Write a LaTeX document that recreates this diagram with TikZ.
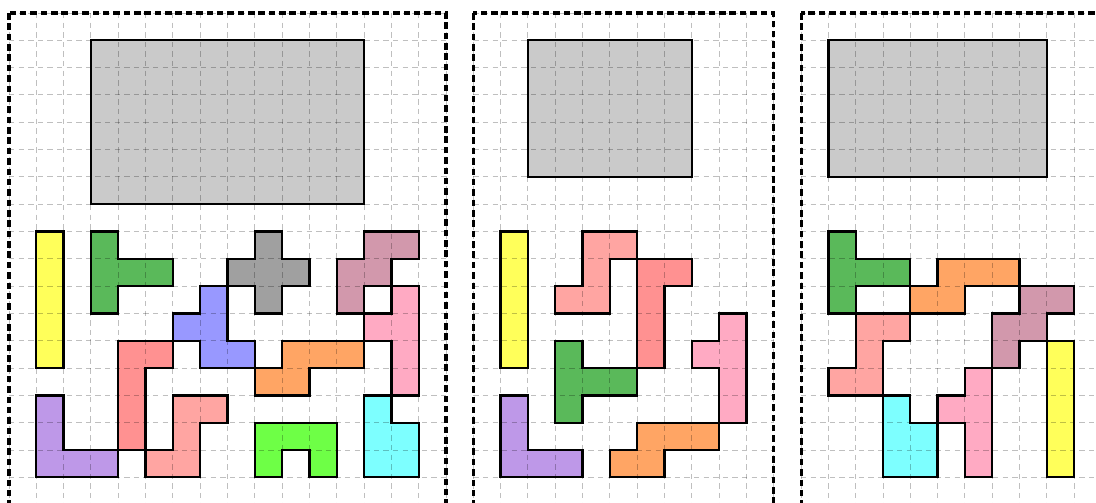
\documentclass[tikz,border=0pt]{standalone}
\usepackage[dvipsnames,svgnames]{xcolor}
\usepackage{tikz}
\usetikzlibrary{calc}

\definecolor{pGrey}{RGB}{202,202,202}
\definecolor{pYellow}{RGB}{255,255,90}
\definecolor{pGreen}{RGB}{90,185,90}
\definecolor{pCross}{RGB}{160,160,160}
\definecolor{pMauve}{RGB}{210,152,172}
\definecolor{pBlue}{RGB}{152,152,255}
\definecolor{pPink}{RGB}{255,170,195}
\definecolor{pOrange}{RGB}{255,165,100}
\definecolor{pRed}{RGB}{255,145,145}
\definecolor{pSalmon}{RGB}{255,165,162}
\definecolor{pLime}{RGB}{110,255,70}
\definecolor{pCyan}{RGB}{125,255,255}
\definecolor{pPurple}{RGB}{190,152,232}

\begin{document}
\begin{tikzpicture}[x=0.5cm, y=-0.5cm,
    piece/.style={draw=black, line width=1.2pt, fill=#1},
    board/.style={draw=black, line width=1.6pt, dash pattern=on 3.4pt off 2pt},
    gridline/.style={draw=black, draw opacity=0.25, line width=0.5pt, dash pattern=on 2.8pt off 2.2pt}]
  \useasboundingbox (-0.33,-0.476) rectangle (39.80,17.905);
  \clip (-0.33,-0.476) rectangle (39.80,17.905);

  % left board
  \draw[piece=pGrey] (3,1) rectangle (13,7);
  \draw[piece=pYellow] (1,8) rectangle (2,13);
  \draw[piece=pGreen] (3,8) -- (4,8) -- (4,9) -- (6,9) -- (6,10) -- (4,10) -- (4,11) -- (3,11) -- cycle;
  \draw[piece=pCross] (9,8) -- (10,8) -- (10,9) -- (11,9) -- (11,10) -- (10,10) -- (10,11) -- (9,11) -- (9,10) -- (8,10) -- (8,9) -- (9,9) -- cycle;
  \draw[piece=pMauve] (13,8) -- (15,8) -- (15,9) -- (14,9) -- (14,10) -- (13,10) -- (13,11) -- (12,11) -- (12,9) -- (13,9) -- cycle;
  \draw[piece=pBlue] (7,10) -- (8,10) -- (8,12) -- (9,12) -- (9,13) -- (7,13) -- (7,12) -- (6,12) -- (6,11) -- (7,11) -- cycle;
  \draw[piece=pPink] (14,10) -- (15,10) -- (15,14) -- (14,14) -- (14,12) -- (13,12) -- (13,11) -- (14,11) -- cycle;
  \draw[piece=pOrange] (10,12) -- (13,12) -- (13,13) -- (11,13) -- (11,14) -- (9,14) -- (9,13) -- (10,13) -- cycle;
  \draw[piece=pRed] (4,12) -- (6,12) -- (6,13) -- (5,13) -- (5,16) -- (4,16) -- cycle;
  \draw[piece=pSalmon] (6,14) -- (8,14) -- (8,15) -- (7,15) -- (7,17) -- (5,17) -- (5,16) -- (6,16) -- cycle;
  \draw[piece=pLime] (9,15) -- (12,15) -- (12,17) -- (11,17) -- (11,16) -- (10,16) -- (10,17) -- (9,17) -- cycle;
  \draw[piece=pCyan] (13,14) -- (14,14) -- (14,15) -- (15,15) -- (15,17) -- (13,17) -- cycle;
  \draw[piece=pPurple] (1,14) -- (2,14) -- (2,16) -- (4,16) -- (4,17) -- (1,17) -- cycle;

  % middle board
  \draw[piece=pGrey] (19,1) rectangle (25,6);
  \draw[piece=pYellow] (18,8) rectangle (19,13);
  \draw[piece=pSalmon] (21,8) -- (23,8) -- (23,9) -- (22,9) -- (22,11) -- (20,11) -- (20,10) -- (21,10) -- cycle;
  \draw[piece=pRed] (23,9) -- (25,9) -- (25,10) -- (24,10) -- (24,13) -- (23,13) -- cycle;
  \draw[piece=pPink] (26,11) -- (27,11) -- (27,15) -- (26,15) -- (26,13) -- (25,13) -- (25,12) -- (26,12) -- cycle;
  \draw[piece=pGreen] (20,12) -- (21,12) -- (21,13) -- (23,13) -- (23,14) -- (21,14) -- (21,15) -- (20,15) -- cycle;
  \draw[piece=pPurple] (18,14) -- (19,14) -- (19,16) -- (21,16) -- (21,17) -- (18,17) -- cycle;
  \draw[piece=pOrange] (23,15) -- (26,15) -- (26,16) -- (24,16) -- (24,17) -- (22,17) -- (22,16) -- (23,16) -- cycle;

  % right board
  \draw[piece=pGrey] (30,1) rectangle (38,6);
  \draw[piece=pGreen] (30,8) -- (31,8) -- (31,9) -- (33,9) -- (33,10) -- (31,10) -- (31,11) -- (30,11) -- cycle;
  \draw[piece=pOrange] (34,9) -- (37,9) -- (37,10) -- (35,10) -- (35,11) -- (33,11) -- (33,10) -- (34,10) -- cycle;
  \draw[piece=pMauve] (37,10) -- (39,10) -- (39,11) -- (38,11) -- (38,12) -- (37,12) -- (37,13) -- (36,13) -- (36,11) -- (37,11) -- cycle;
  \draw[piece=pSalmon] (31,11) -- (33,11) -- (33,12) -- (32,12) -- (32,14) -- (30,14) -- (30,13) -- (31,13) -- cycle;
  \draw[piece=pYellow] (38,12) rectangle (39,17);
  \draw[piece=pPink] (35,13) -- (36,13) -- (36,17) -- (35,17) -- (35,15) -- (34,15) -- (34,14) -- (35,14) -- cycle;
  \draw[piece=pCyan] (32,14) -- (33,14) -- (33,15) -- (34,15) -- (34,17) -- (32,17) -- cycle;

  % grid and frames
  \foreach \a/\b in {0/16, 17/28, 29/40} {
    \foreach \i in {\a,...,\b} \draw[gridline] (\i,0) -- (\i,19);
    \foreach \j in {0,...,19} \draw[gridline] (\a,\j) -- (\b,\j);
    \draw[board] (\a,0) rectangle (\b,20);
  }
\end{tikzpicture}
\end{document}
